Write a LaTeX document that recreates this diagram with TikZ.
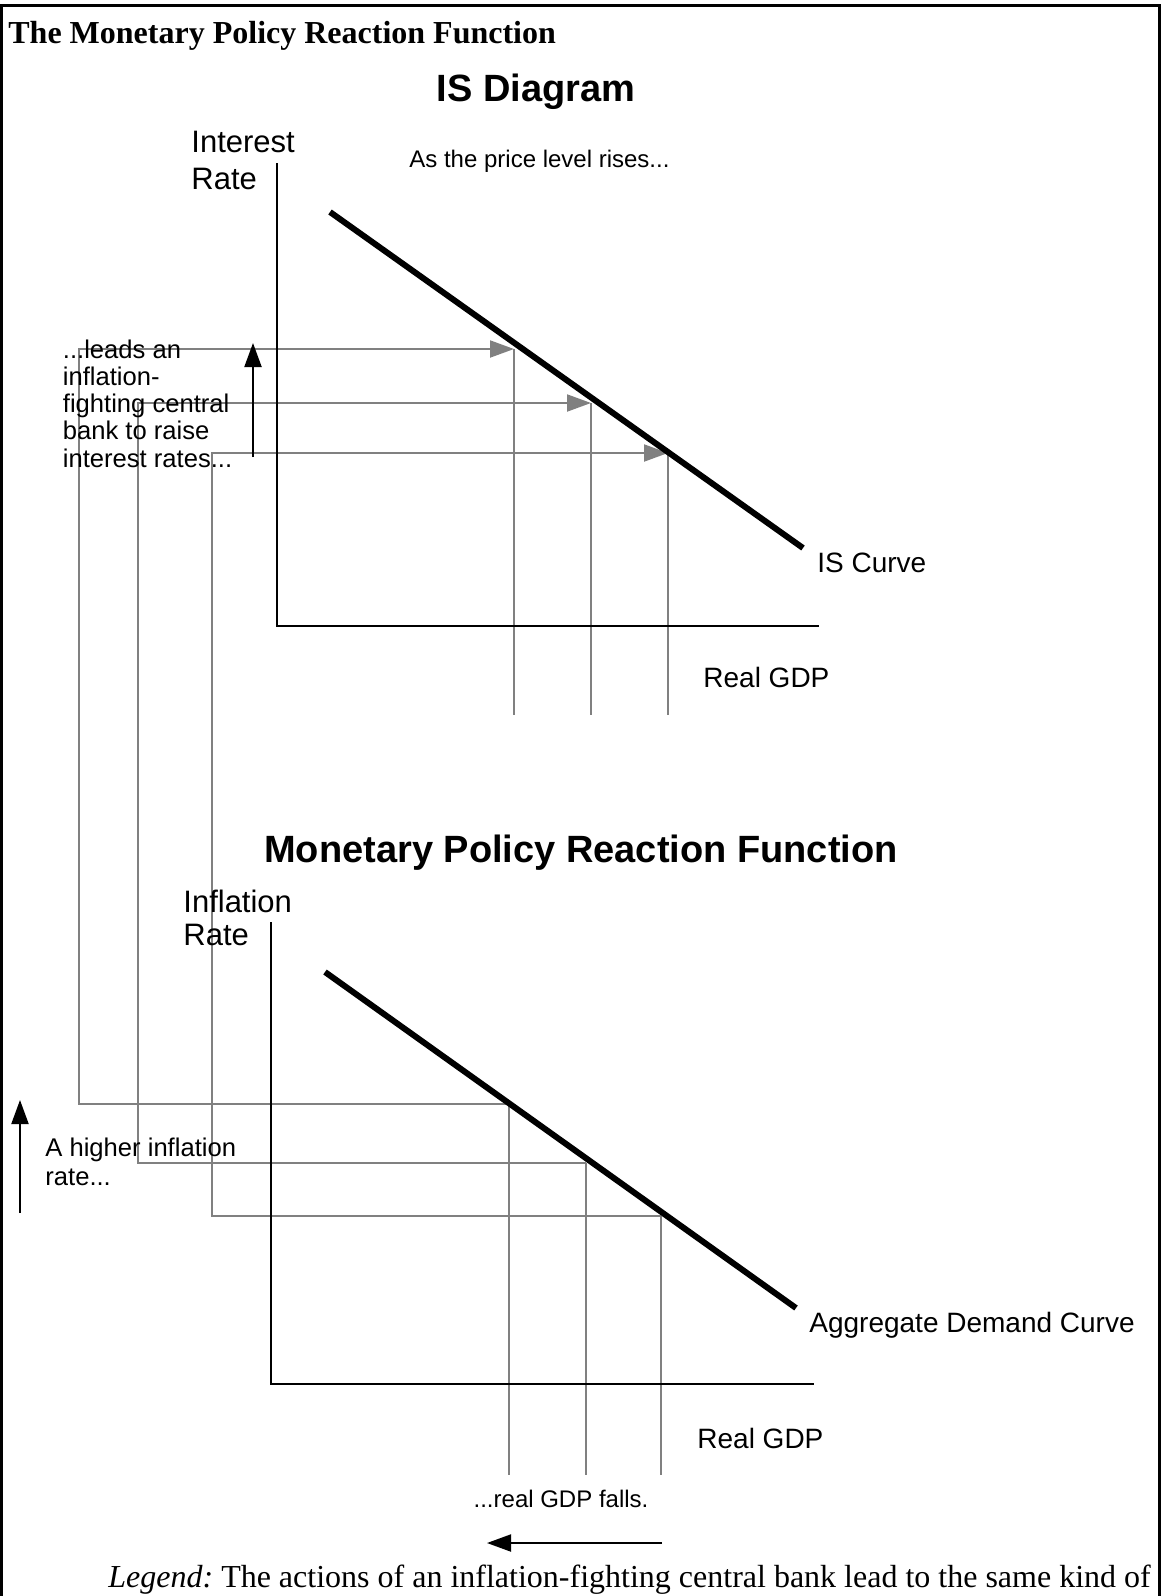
\documentclass[tikz,border=0pt]{standalone}
\usepackage{fontspec}
\setmainfont{Liberation Serif}
\setsansfont{Liberation Sans}
\usetikzlibrary{arrows.meta}
\frenchspacing

\tikzset{
  frame/.style={line width=1.5pt},
  axis/.style={line width=1pt},
  curve/.style={line width=3pt},
  guide/.style={draw=gray, line width=1pt},
  tip/.style={-{Triangle[length=12pt,width=8.5pt]}},
  move/.style={line width=1pt, tip},
  txt/.style={inner sep=0pt, anchor=base west},
  small/.style={txt, font=\sffamily\fontsize{12}{14}\selectfont},
  note/.style={txt, font=\sffamily\fontsize{12.8}{14}\selectfont},
  label/.style={txt, font=\sffamily\fontsize{14}{16}\selectfont},
  axtitle/.style={txt, font=\sffamily\fontsize{15.5}{17}\selectfont},
  heading/.style={inner sep=0pt, anchor=base, font=\sffamily\bfseries\fontsize{19}{22}\selectfont}
}

\begin{document}
\begin{tikzpicture}[x=0.5pt, y=-0.5pt]

    \useasboundingbox (0,0) rectangle (1161,1596);

    % Frame and title
    \draw[frame] (1.7,1596) -- (1.7,5) -- (1159.5,5) -- (1159.5,1596);
    \node[txt, font=\rmfamily\bfseries\fontsize{16}{19}\selectfont] (title) at (8,43) {The Monetary Policy Reaction Function};

    % Define the points of the IS diagram
    \coordinate (isY) at (277,163);
    \coordinate (isO) at (277,626);
    \coordinate (isX) at (819,626);
    \coordinate (isA) at (330,212);
    \coordinate (isB) at (803,548);
    \coordinate (p1) at (514,349);
    \coordinate (p2) at (591,403);
    \coordinate (p3) at (668,453);
    \coordinate (d1) at (514,715);
    \coordinate (d2) at (591,715);
    \coordinate (d3) at (668,715);

    % Define the points of the reaction function diagram
    \coordinate (adY) at (271,922);
    \coordinate (adO) at (271,1384);
    \coordinate (adX) at (814,1384);
    \coordinate (adA) at (325,972);
    \coordinate (adB) at (796,1308);
    \coordinate (q1) at (508.5,1104);
    \coordinate (q2) at (586,1163);
    \coordinate (q3) at (660.5,1216);
    \coordinate (e1) at (508.5,1475);
    \coordinate (e2) at (586,1475);
    \coordinate (e3) at (660.5,1475);

    % Corners of the gray guides
    \coordinate (k1) at (79,1104);
    \coordinate (k2) at (138,1163);
    \coordinate (k3) at (212,1216);
    \coordinate (c1) at (79,349);
    \coordinate (c2) at (138,403);
    \coordinate (c3) at (212,453);

    % Draw the gray guides
    \draw[guide, tip] (q1) -- (k1) -- (c1) -- (p1);
    \draw[guide, tip] (q2) -- (k2) -- (c2) -- (p2);
    \draw[guide, tip] (q3) -- (k3) -- (c3) -- (p3);
    \draw[guide] (p1) -- (d1);
    \draw[guide] (p2) -- (d2);
    \draw[guide] (p3) -- (d3);
    \draw[guide] (q1) -- (e1);
    \draw[guide] (q2) -- (e2);
    \draw[guide] (q3) -- (e3);

    % IS diagram
    \node[heading] (isHead) at (536,101) {IS Diagram};
    \node[axtitle] (isRate1) at (191,152) {Interest};
    \node[axtitle] (isRate2) at (191,189) {Rate};
    \node[small] (rises) at (409,167) {As the price level rises...};
    \draw[axis] (isY) -- (isO) -- (isX);
    \draw[curve] (isA) -- (isB);
    \node[label] (isCurve) at (817,572) {IS Curve};
    \node[label] (isGdp) at (703,687) {Real GDP};

    % Text on the central bank
    \node[note] (bank1) at (62.5,358) {...leads an};
    \node[note] (bank2) at (62.5,385.25) {inflation-};
    \node[note] (bank3) at (62.5,412.5) {fighting central};
    \node[note] (bank4) at (62.5,439.75) {bank to raise};
    \node[note] (bank5) at (62.5,467) {interest rates...};
    \coordinate (rateLow) at (253,457);
    \coordinate (rateHigh) at (253,343);
    \draw[move] (rateLow) -- (rateHigh);

    % Reaction function diagram
    \node[heading] (adHead) at (581,862) {Monetary Policy Reaction Function};
    \node[axtitle] (adRate1) at (183,912) {Inflation};
    \node[axtitle] (adRate2) at (183,945) {Rate};
    \draw[axis] (adY) -- (adO) -- (adX);
    \draw[curve] (adA) -- (adB);
    \node[label] (adCurve) at (809,1332) {Aggregate Demand Curve};
    \node[label] (adGdp) at (697,1448) {Real GDP};

    % Inflation and output moves
    \node[note] (higher1) at (45,1156) {A higher inflation};
    \node[note] (higher2) at (45,1185) {rate...};
    \coordinate (inflLow) at (20,1213);
    \coordinate (inflHigh) at (20,1100);
    \draw[move] (inflLow) -- (inflHigh);
    \node[small, anchor=base] (falls) at (561,1507) {...real GDP falls.};
    \coordinate (gdpHigh) at (662,1543);
    \coordinate (gdpLow) at (487,1543);
    \draw[move] (gdpHigh) -- (gdpLow);

    % Legend
    \node[txt, font=\rmfamily\fontsize{16}{19}\selectfont] (legend) at (108,1587) {\textit{Legend:} The actions of an inflation-fighting central bank lead to the same kind of};

\end{tikzpicture}
\end{document}
